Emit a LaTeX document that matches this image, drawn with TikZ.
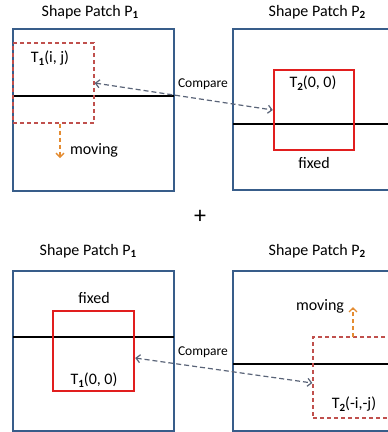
\documentclass[tikz,border=0pt]{standalone}
\usepackage{fontspec}
\setmainfont{Carlito}
\usetikzlibrary{arrows.meta}
\definecolor{boxblue}{RGB}{56,93,138}
\definecolor{solidred}{RGB}{225,30,30}
\definecolor{dashred}{RGB}{192,80,77}
\definecolor{movorange}{RGB}{228,140,50}
\definecolor{cmpgray}{RGB}{90,100,120}
\newcommand\lowsub[1]{\raisebox{-0.35ex}{\fontsize{11}{11}\selectfont\bfseries #1}}
\tikzset{
  patch/.style={draw=boxblue,line width=2pt,fill=white},
  midline/.style={draw=black,line width=2pt},
  fixedwin/.style={draw=solidred,line width=2.4pt,inner sep=0pt},
  movewin/.style={draw=dashred,line width=1.3pt,dash pattern=on 4pt off 3pt,inner sep=0pt},
  movearrow/.style={draw=movorange,line width=1.3pt,dash pattern=on 4pt off 3pt,-{Straight Barb[length=4pt,width=8pt]}},
  cmparrow/.style={draw=cmpgray,line width=1.2pt,dash pattern=on 5pt off 3pt,{Straight Barb[length=4pt,width=8pt]}-{Straight Barb[length=4pt,width=8pt]}},
  ttl/.style={font=\fontsize{16}{18}\selectfont},
  lbl/.style={font=\fontsize{16}{18}\selectfont},
  cmp/.style={font=\fontsize{13.5}{15}\selectfont},
}
\begin{document}
\begin{tikzpicture}[x=1pt,y=-1pt]
\useasboundingbox (0,0) rectangle (388,432);
\clip (0,0) rectangle (388,432);
% ---------- top row ----------
\node[ttl] (t1) at (90,12) {Shape Patch P\lowsub{1}};
\node[ttl] (t2) at (317,12) {Shape Patch P\lowsub{2}};
\node[patch,minimum width=161pt,minimum height=162pt,inner sep=0pt] (P1a) at (93.5,110) {};
\node[patch,minimum width=180pt,minimum height=161pt,inner sep=0pt] (P2a) at (323,109.5) {};
\draw[midline] (13,96) -- (174,96);
\draw[midline] (233,124) -- (395,124);
\node[movewin,minimum width=81pt,minimum height=80pt] (W1a) at (53.5,83) {};
\node[fixedwin,minimum width=80pt,minimum height=80pt] (W2a) at (314,110) {};
\node[lbl] (l1a) at (50,58) {T\lowsub{1}(i, j)};
\node[lbl] (l2a) at (313,83) {T\lowsub{2}(0, 0)};
\node[lbl] (fa) at (314,163) {fixed};
\node[lbl] (ma) at (94,150) {moving};
\coordinate (ma0) at (60,123.5);
\coordinate (ma1) at (60,158);
\draw[movearrow] (ma0) -- (ma1);
\node[cmp] (ca) at (203,84) {Compare};
\draw[cmparrow] (W1a.east) -- (W2a.west);
% plus
\node[font=\fontsize{24}{24}\selectfont] (plus) at (200,217) {+};
% ---------- bottom row ----------
\node[ttl] (t3) at (88,251) {Shape Patch P\lowsub{1}};
\node[ttl] (t4) at (317,251) {Shape Patch P\lowsub{2}};
\node[patch,minimum width=161pt,minimum height=160pt,inner sep=0pt] (P1b) at (93.5,351) {};
\node[patch,minimum width=180pt,minimum height=160pt,inner sep=0pt] (P2b) at (323,351) {};
\draw[midline] (13,337) -- (174,337);
\draw[midline] (233,364) -- (395,364);
\node[fixedwin,minimum width=81pt,minimum height=80pt] (W1b) at (93.5,351) {};
\node[movewin,minimum width=90pt,minimum height=81pt] (W2b) at (358,377.5) {};
\node[lbl] (fb) at (94,298) {fixed};
\node[lbl] (l1b) at (94,380) {T\lowsub{1}(0, 0)};
\node[lbl] (l2b) at (354,404) {T\lowsub{2}(-i,-j)};
\node[lbl] (mb) at (320,306) {moving};
\coordinate (mb0) at (353,337);
\coordinate (mb1) at (353,307);
\draw[movearrow] (mb0) -- (mb1);
\node[cmp] (cb) at (203,352) {Compare};
\draw[cmparrow] ([yshift=-7pt]W1b.east) -- ([yshift=-5.5pt]W2b.west);
\end{tikzpicture}
\end{document}
